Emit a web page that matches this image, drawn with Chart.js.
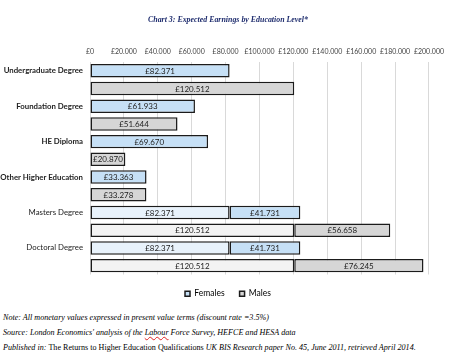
<!DOCTYPE html>
<html>
<head>
<meta charset="utf-8">
<script src="https://cdn.jsdelivr.net/npm/chart.js@4"></script>
<style>
  body { margin: 0; background: #fff; width: 450px; height: 361px; overflow: hidden; }
  #caixa { position: relative; width: 450px; height: 308px; }
  .notas { font-family: "Liberation Serif", serif; font-size: 8.1px; font-style: italic; color: #000; margin: 2px 0 0 3px; }
  .notas div { height: 15px; line-height: 15px; white-space: nowrap; }
  .reto { font-style: normal; }
  .erro { text-decoration: underline wavy #d22; }
</style>
</head>
<body>
<div id="caixa"><canvas id="grafico1"></canvas></div>
<div class="notas">
  <div>Note: All monetary values expressed in present value terms (discount rate =3.5%)</div>
  <div>Source: London Economics' analysis of the <span class="erro">Labour</span> Force Survey, HEFCE and HESA data</div>
  <div>Published in: <span class="reto">The Returns to Higher Education Qualifications</span> UK BIS Research paper No. 45, June 2011, retrieved April 2014.</div>
</div>
<script>
// dados
let cursos = ['Undergraduate Degree','Foundation Degree','HE Diploma','Other Higher Education','Masters Degree','Doctoral Degree']
let femininoBase = [82371, 61933, 69670, 33363, 82371, 82371]
let femininoExtra = [null, null, null, null, 41731, 41731]
let masculinoBase = [120512, 51644, 20870, 33278, 120512, 120512]
let masculinoExtra = [null, null, null, null, 56658, 76245]
let ticksX = ['£0','£20.000','£40.000','£60.000','£80.000','£100.000','£120.000','£140.000','£160.000','£180.000','£200.000']

// cada curso ocupa duas linhas: mulheres e depois homens
let labelsY = []
cursos.forEach(c => { labelsY.push(c); labelsY.push('') })

const linhaF = arr => arr.flatMap(v => [v, null])
const linhaM = arr => arr.flatMap(v => [null, v])

const azul = '#c6e0f6', azulClaro = '#e8f2fb'
const cinza = '#d6d6d6', cinzaClaro = '#f3f3f3'
const corF = femininoExtra.flatMap(v => [v ? azulClaro : azul, azul])
const corM = masculinoExtra.flatMap(v => [cinza, v ? cinzaClaro : cinza])

const formata = v => '£' + v.toString().replace(/\B(?=(\d{3})+(?!\d))/g, '.')

const rotulos = {
  id: 'rotulos',
  afterDatasetsDraw(chart) {
    const c = chart.ctx
    c.save()
    c.font = '8px Lato'
    c.fillStyle = '#222'
    c.textAlign = 'center'
    c.textBaseline = 'middle'
    chart.data.datasets.forEach((ds, i) => {
      chart.getDatasetMeta(i).data.forEach((bar, j) => {
        const v = ds.data[j]
        if (v == null) return
        c.fillText(formata(v), (bar.x + bar.base) / 2, bar.y + 0.5)
      })
    })
    c.restore()
  }
}

// título e legenda do original ficam um pouco à direita do centro
const desloca = {
  id: 'desloca',
  afterLayout(chart) {
    [chart.titleBlock, chart.legend].forEach(b => { b.left += 12; b.right += 12 })
  }
}

const comum = { borderColor: '#1b1b1b', borderWidth: 1.5, borderSkipped: false, categoryPercentage: 1, barPercentage: 0.76 }

const ctx = document.getElementById('grafico1')

let grafico1 = new Chart(ctx, {
  type: 'bar',
  data: {
    labels: labelsY,
    datasets: [
      { ...comum, label: 'Females', data: linhaF(femininoBase), backgroundColor: corF },
      { ...comum, label: 'Females extra', data: linhaF(femininoExtra), backgroundColor: azul },
      { ...comum, label: 'Males', data: linhaM(masculinoBase), backgroundColor: corM },
      { ...comum, label: 'Males extra', data: linhaM(masculinoExtra), backgroundColor: cinza }
    ]
  },
  options: {
    indexAxis: 'y',
    responsive: true,
    maintainAspectRatio: false,
    animation: false,
    layout: { padding: { left: 0, right: 18, top: 0, bottom: 0 } },
    scales: {
      x: {
        position: 'top',
        stacked: true,
        min: 0,
        max: 200000,
        ticks: {
          stepSize: 20000,
          padding: 6,
          maxRotation: 0,
          minRotation: 0,
          autoSkip: false,
          color: '#444',
          font: { family: 'Lato', size: 7 },
          callback: (v, i) => ticksX[i]
        },
        grid: { color: '#d9d9d9', drawTicks: false },
        border: { display: false }
      },
      y: {
        stacked: true,
        afterFit: s => { s.width = 90 },
        ticks: {
          autoSkip: false,
          padding: 7,
          color: '#222',
          font: c => ({ family: 'Lato', size: 7.8, weight: c.index < 8 ? 'bold' : 'normal' })
        },
        grid: { display: false, drawTicks: false },
        border: { display: false }
      }
    },
    plugins: {
      title: {
        display: true,
        text: 'Chart 3: Expected Earnings by Education Level*',
        color: '#1f2d6e',
        font: { family: 'Liberation Serif', size: 7.9, style: 'italic', weight: 'bold' },
        padding: { top: 15, bottom: 17 }
      },
      legend: {
        position: 'bottom',
        labels: {
          generateLabels: chart => [
            { text: 'Females', fillStyle: azul, strokeStyle: '#1b1b1b', lineWidth: 1.5, datasetIndex: 0 },
            { text: 'Males', fillStyle: cinza, strokeStyle: '#1b1b1b', lineWidth: 1.5, datasetIndex: 2 }
          ],
          boxWidth: 5,
          boxHeight: 5,
          padding: 15,
          color: '#444',
          font: { family: 'Lato', size: 8.5 }
        }
      },
      tooltip: { enabled: false }
    }
  },
  plugins: [rotulos, desloca]
})
</script>
</body>
</html>
